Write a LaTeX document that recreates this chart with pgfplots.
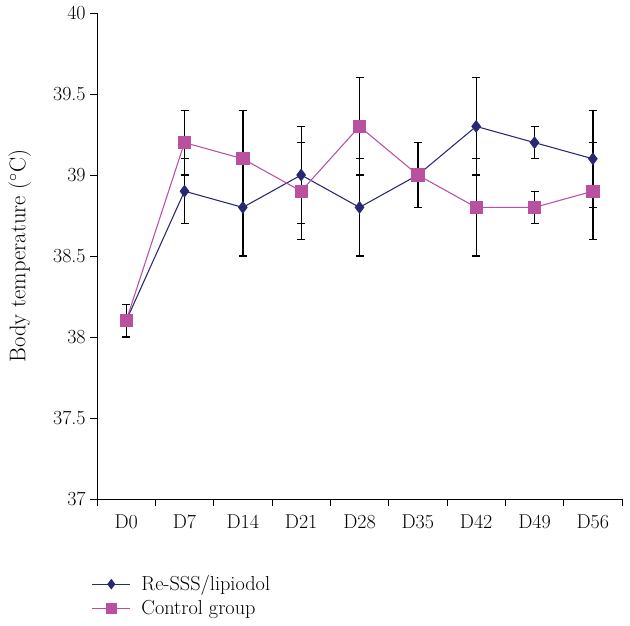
\documentclass[border=0pt]{standalone}
\usepackage{pgfplots}
\pgfplotsset{compat=1.18}
\definecolor{reblue}{RGB}{40,40,115}
\definecolor{ctrlmag}{RGB}{185,80,160}
\pgfplotstableread{
x y e
0.5 38.1 0.1
1.5 38.9 0.2
2.5 38.8 0.3
3.5 39.0 0.3
4.5 38.8 0.3
5.5 39.0 0.2
6.5 39.3 0.3
7.5 39.2 0.1
8.5 39.1 0.3
}\redata
\pgfplotstableread{
x y e
0.5 38.1 0.1
1.5 39.2 0.2
2.5 39.1 0.3
3.5 38.9 0.3
4.5 39.3 0.3
5.5 39.0 0.2
6.5 38.8 0.3
7.5 38.8 0.1
8.5 38.9 0.3
}\ctrldata
\begin{document}
\begin{tikzpicture}
\begin{axis}[
  scale only axis, width=393.75pt, height=364.5pt,
  xmin=0, xmax=9, ymin=37, ymax=40,
  axis x line*=bottom, axis y line*=left,
  axis line style={black, line width=0.7pt},
  xtick={0.5,1.5,2.5,3.5,4.5,5.5,6.5,7.5,8.5},
  xticklabels={D0,D7,D14,D21,D28,D35,D42,D49,D56},
  minor xtick={0,1,2,3,4,5,6,7,8,9},
  major x tick style={draw=none},
  ytick={37,37.5,38,38.5,39,39.5,40},
  tick align=outside,
  tick style={black, line width=0.7pt},
  major tick length=5pt, minor tick length=5pt,
  /pgf/number format/assume math mode=true,
  tick label style={font=\fontsize{15}{18}\selectfont},
  xticklabel style={yshift=-3pt},
  ylabel={Body temperature ($^\circ$C)},
  ylabel style={at={(axis description cs:-0.147,0.5)}, anchor=center, rotate=0, font=\fontsize{17}{20}\selectfont},
  legend style={at={(-0.018,-0.146)}, anchor=north west, draw=none, fill=none,
    row sep=2pt, column sep=6pt, font=\fontsize{15.2}{18}\selectfont},
  legend cell align=left,
  legend image code/.code={\draw[mark repeat=2,mark phase=2,every mark/.append style={scale=0.8}] plot coordinates {(0cm,0cm) (0.5cm,0cm) (1.0cm,0cm)};},
]
\coordinate (bl) at (rel axis cs:0,0);
\addplot[draw=none, mark=none, forget plot,
  error bars/.cd, y dir=both, y explicit,
  error bar style={draw=black, line width=1pt},
  error mark options={rotate=90, draw=black, mark size=3pt, line width=1pt}]
  table[x=x, y=y, y error=e] {\redata};
\addplot[draw=none, mark=none, forget plot,
  error bars/.cd, y dir=both, y explicit,
  error bar style={draw=black, line width=1pt},
  error mark options={rotate=90, draw=black, mark size=3pt, line width=1pt}]
  table[x=x, y=y, y error=e] {\ctrldata};
\addplot[color=reblue, line width=0.8pt, mark=diamond*, mark size=4.2pt,
  mark options={fill=reblue, draw=reblue}]
  table[x=x, y=y] {\redata};
\addlegendentry{Re-SSS/lipiodol}
\addplot[color=ctrlmag, line width=0.8pt, mark=square*, mark size=4.6pt,
  mark options={fill=ctrlmag, draw=ctrlmag}]
  table[x=x, y=y] {\ctrldata};
\addlegendentry{Control group}
\end{axis}
\pgfresetboundingbox
\path[use as bounding box] ([shift={(-72.75pt,-94.5pt)}]bl) rectangle ([shift={(399.75pt,374.25pt)}]bl);
\end{tikzpicture}
\end{document}
